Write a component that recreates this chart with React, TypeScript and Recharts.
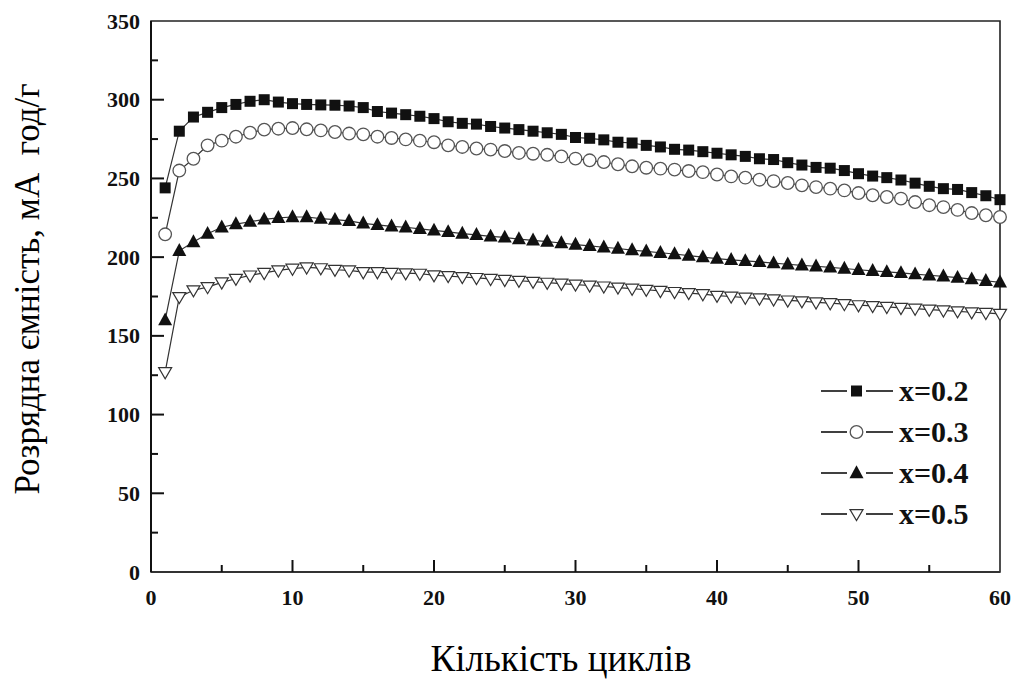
import React from "react";
import { LineChart, Line, XAxis, YAxis, ReferenceArea, Legend } from "recharts";

const cycles = [
  1, 2, 3, 4, 5, 6, 7, 8, 9, 10, 11, 12, 13, 14, 15, 16, 17, 18, 19, 20,
  21, 22, 23, 24, 25, 26, 27, 28, 29, 30, 31, 32, 33, 34, 35, 36, 37, 38, 39, 40,
  41, 42, 43, 44, 45, 46, 47, 48, 49, 50, 51, 52, 53, 54, 55, 56, 57, 58, 59, 60,
];

// x = 0.2 (filled squares)
const cap02 = [
  244, 280, 289, 292, 295, 297, 299, 300, 298.5, 297.5, 297, 296.7, 296.5, 296, 295, 292.5, 291.5, 290.5, 289.5, 288,
  286, 285, 284.5, 283, 282, 281, 280, 279, 278, 276, 275.5, 274.5, 273, 272.5, 271, 270, 268.5, 268, 267, 266,
  265, 264, 262.5, 262, 260, 258.5, 257, 256.5, 255, 253, 251.5, 250.5, 249, 247, 245, 243.5, 243, 241, 239, 236.5,
];

// x = 0.3 (open circles)
const cap03 = [
  214.5, 255, 262.5, 271, 274, 276.5, 279, 281, 281.6, 282, 281.2, 280.5, 279.5, 278.5, 278, 276.5, 275.7, 274.8, 274, 273,
  271, 270, 269, 268.3, 267.4, 266.2, 265.7, 265, 264, 262.6, 261.5, 260.4, 259, 257.7, 256.8, 256.2, 255.6, 254.7, 254, 252.5,
  251.3, 250.5, 249.2, 248.3, 247.1, 245.6, 244.5, 243.5, 242.4, 240.7, 239.3, 238.2, 237.2, 235, 233, 231.8, 230, 228, 226.6, 225.5,
];

// x = 0.4 (filled triangles)
const cap04 = [
  160, 204, 209.6, 214.9, 219, 221, 222.5, 224, 225, 225.5, 225.5, 224.5, 223.8, 223, 221.5, 220.5, 219.6, 219, 218, 217,
  216, 215, 214.2, 213.2, 212.5, 211.5, 210.7, 209.8, 209, 208, 207.2, 206.3, 205.5, 204.5, 203.7, 202.8, 202, 201, 200, 199,
  198.3, 197.6, 197, 196.2, 195.5, 194.8, 194.2, 193.5, 192.8, 192, 191.3, 190.6, 190, 189.2, 188.5, 187.8, 187, 186, 185, 184,
];

// x = 0.5 (open inverted triangles)
const cap05 = [
  127, 174.7, 179, 181, 184, 186.3, 188.4, 190, 191.6, 192.7, 193.5, 193, 192, 191.6, 190.5, 190.5, 190, 189.8, 189.5, 188.5,
  188, 187.4, 186.8, 186.2, 185.6, 185, 184.4, 183.8, 183.2, 182.6, 182, 181.4, 180.7, 180, 179.3, 178.6, 177.9, 177.2, 176.5, 175.5,
  175, 174.3, 173.8, 173.2, 172.5, 172, 171.3, 170.8, 170.2, 169.5, 169, 168.4, 167.8, 167.3, 166.7, 166.2, 165.6, 165, 164.6, 164,
];

const xTicks = [0, 5, 10, 15, 20, 25, 30, 35, 40, 45, 50, 55, 60];
const yTicks = [0, 25, 50, 75, 100, 125, 150, 175, 200, 225, 250, 275, 300, 325, 350];
const seriesNames = ["x=0.2", "x=0.3", "x=0.4", "x=0.5"];

const data = cycles.map((c, i) => ({
  cycle: c,
  x02: cap02[i],
  x03: cap03[i],
  x04: cap04[i],
  x05: cap05[i],
}));

const SERIF = "'Liberation Serif', 'Times New Roman', serif";

function Square({ cx, cy, s = 11 }: any) {
  return <rect x={cx - s / 2} y={cy - s / 2} width={s} height={s} fill="#111" />;
}
function Circle({ cx, cy, r = 6.3 }: any) {
  return <circle cx={cx} cy={cy} r={r} fill="#fff" stroke="#555" strokeWidth={1.3} />;
}
function TriUp({ cx, cy, s = 14 }: any) {
  const h = s * 0.92;
  return (
    <polygon
      points={`${cx},${cy - h * 0.6} ${cx - s / 2},${cy + h * 0.4} ${cx + s / 2},${cy + h * 0.4}`}
      fill="#111"
    />
  );
}
function TriDown({ cx, cy, s = 13 }: any) {
  const h = s * 0.85;
  return (
    <polygon
      points={`${cx - s / 2},${cy - h * 0.4} ${cx + s / 2},${cy - h * 0.4} ${cx},${cy + h * 0.6}`}
      fill="#fff"
      stroke="#333"
      strokeWidth={1.2}
    />
  );
}

const markers = [Square, Circle, TriUp, TriDown];

function XTick({ x, y, payload }: any) {
  const v = payload.value;
  const major = v % 10 === 0;
  return (
    <g>
      {v !== 0 && v !== 60 && (
        <line x1={x} x2={x} y1={y} y2={y - (major ? 12 : 7)} stroke="#111" strokeWidth={2} />
      )}
      {major && (
        <text x={x} y={y + 33} textAnchor="middle" fontFamily={SERIF} fontWeight="bold" fontSize={22} fill="#111">
          {v}
        </text>
      )}
    </g>
  );
}

function YTick({ x, y, payload }: any) {
  const v = payload.value;
  const major = v % 50 === 0;
  return (
    <g>
      {v !== 0 && v !== 350 && (
        <line x1={x} x2={x + (major ? 13 : 7)} y1={y} y2={y} stroke="#111" strokeWidth={2} />
      )}
      {major && (
        <text x={x - 11} y={y + 7.5} textAnchor="end" fontFamily={SERIF} fontWeight="bold" fontSize={22} fill="#111">
          {v}
        </text>
      )}
    </g>
  );
}

function LegendBox() {
  return (
    <div style={{ display: "flex", flexDirection: "column" }}>
      {seriesNames.map((name, i) => {
        const M = markers[i];
        return (
          <div key={name} style={{ display: "flex", alignItems: "center", height: 41 }}>
            <svg width={72} height={24}>
              <line x1={0} x2={26} y1={12} y2={12} stroke="#111" strokeWidth={1.6} />
              <line x1={45} x2={72} y1={12} y2={12} stroke="#111" strokeWidth={1.6} />
              <M cx={35.5} cy={12} />
            </svg>
            <span
              style={{
                marginLeft: 6,
                fontFamily: SERIF,
                fontWeight: "bold",
                fontSize: 30,
                lineHeight: "30px",
                color: "#111",
              }}
            >
              {name}
            </span>
          </div>
        );
      })}
    </div>
  );
}

export default function App() {
  const keys = ["x02", "x03", "x04", "x05"];
  return (
    <div style={{ position: "absolute", left: 0, top: 0, width: 1013, height: 682, background: "#fff" }}>
      <LineChart width={1013} height={682} data={data} margin={{ top: 21, right: 13, bottom: 70, left: 0 }}>
        <XAxis
          dataKey="cycle"
          type="number"
          domain={[0, 60]}
          ticks={xTicks}
          interval={0}
          tickSize={0}
          tickMargin={0}
          tickLine={false}
          tick={<XTick />}
          height={40}
          axisLine={{ stroke: "#333", strokeWidth: 2 }}
          label={{
            content: () => (
              <text x={561} y={671} textAnchor="middle" fontFamily={SERIF} fontSize={37} fill="#000">
                Кількість циклів
              </text>
            ),
          }}
        />
        <YAxis
          type="number"
          domain={[0, 350]}
          ticks={yTicks}
          interval={0}
          tickSize={0}
          tickMargin={0}
          tickLine={false}
          tick={<YTick />}
          width={151}
          axisLine={{ stroke: "#111", strokeWidth: 2 }}
          label={{
            content: () => (
              <text
                x={39}
                y={289}
                transform="rotate(-90, 39, 289)"
                textAnchor="middle"
                fontFamily={SERIF}
                fontSize={35}
                fill="#000"
                style={{ whiteSpace: "pre" }}
              >
                {"Розрядна ємність, мА  год/г"}
              </text>
            ),
          }}
        />
        <ReferenceArea x1={0} x2={60} y1={0} y2={350} fill="none" stroke="#222" strokeWidth={1.6} />
        {keys.map((k, i) => {
          const M = markers[i];
          return (
            <Line
              key={k}
              dataKey={k}
              name={seriesNames[i]}
              stroke="#333"
              strokeWidth={1.2}
              isAnimationActive={false}
              dot={(p: any) => <M key={`${k}-${p.index}`} cx={p.cx} cy={p.cy} />}
            />
          );
        })}
        <Legend
          layout="horizontal"
          verticalAlign="middle"
          align="center"
          wrapperStyle={{ left: 821, top: 370, width: 180 }}
          content={() => <LegendBox />}
        />
      </LineChart>
    </div>
  );
}
